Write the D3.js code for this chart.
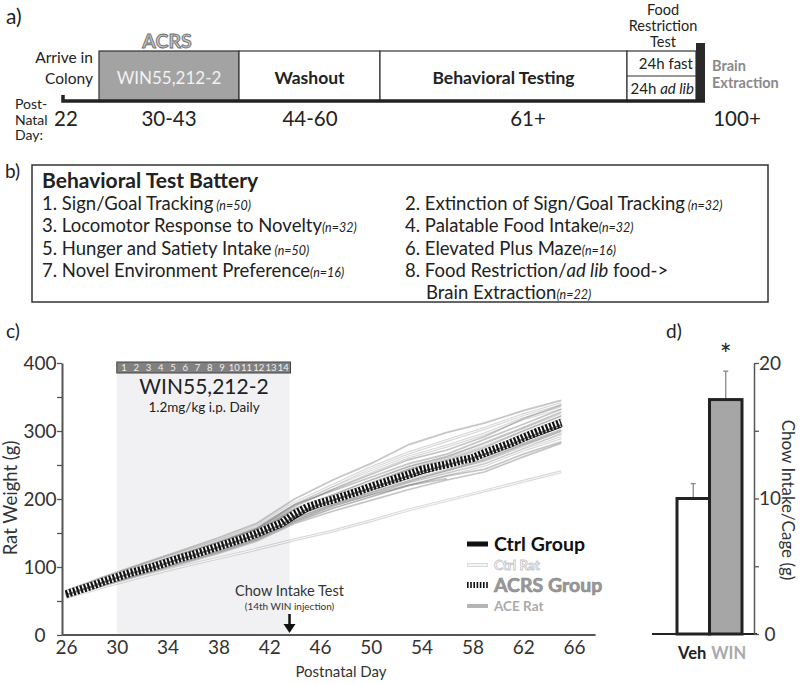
<!DOCTYPE html>
<html><head><meta charset="utf-8">
<script src="https://cdn.jsdelivr.net/npm/d3@7"></script>
<style>body{margin:0;background:#fff}svg{display:block}text{font-family:Lato,'Open Sans',sans-serif}</style>
</head><body><svg id="c" width="800" height="684"></svg>
<script>
// ---------------- DATA ----------------
const timelinePhases = ["WIN55,212-2", "Washout", "Behavioral Testing"];
const timelineDays = ["22", "30-43", "44-60", "61+", "100+"];
const foodTests = ["24h fast", "24h ad lib"];

const batteryTitle = "Behavioral Test Battery";
const batteryLeft = [["1. Sign/Goal Tracking", " (n=50)"], ["3. Locomotor Response to Novelty", "(n=32)"], ["5. Hunger and Satiety Intake", " (n=50)"], ["7. Novel Environment Preference", "(n=16)"]];
const batteryRight = [["2. Extinction of Sign/Goal Tracking", " (n=32)"], ["4. Palatable Food Intake", "(n=32)"], ["6. Elevated Plus Maze", "(n=16)"]];

// Panel c: body weights
const groupDays = d3.range(26, 66);
const acrsGroupMean = [60,66,72,79,85,91,96,101,107,113,118,124,130,136,142,149,157,165,178,188,194,199,205,211,218,224,230,236,243,247,251,256,260,268,275,282,290,298,305,312];
const ctrlGroupMean = [59,65,71,78,84,90,95,100,106,112,117,123,129,135,141,147,155,162,174,185,192,198,204,210,216,222,228,234,240,245,250,255,260,266,273,280,288,295,302,309];
const ratDays = [26,29,32,35,38,41,44,47,50,53,56,59,62,65];
const aceRats = [
  [65,86,105,124,143,164,200,228,252,280,298,312,330,345],
  [63,83,101,119,137,157,190,214,236,258,272,292,318,338],
  [61,81,99,117,135,155,186,206,228,248,262,283,305,328],
  [62,81,98,115,132,152,182,204,222,244,258,276,300,322],
  [59,78,95,112,129,147,176,196,214,232,248,264,286,306],
  [58,76,93,110,127,145,171,192,209,226,242,258,280,300],
  [57,74,90,106,122,140,166,186,203,220,234,244,266,284],
  [56,73,89,104,120,138,164,182,198,214,228,240,262,282],
  [58,75,92,108,124,142,168,190,206,220,230],
  [60,79,97,115,133,152,184,203,222,242,254,270,296,318],
  [62,82,100,118,136,156,192,212,232,252,266,288,310,332],
  [59,77,94,111,128,146,174,198,216,236,250,262,282,302]
];
const ctrlRats = [
  [64,84,103,121,139,160,194,220,246,268,286,304,324,340],
  [60,80,97,114,131,150,180,201,220,239,254,272,294,316],
  [62,82,100,117,134,153,183,205,226,246,262,280,302,324],
  [58,77,94,111,127,145,172,192,210,228,242,258,278,296],
  [57,75,91,107,123,141,168,188,205,222,236,250,272,290],
  [55,71,86,100,113,126,140,153,168,184,198,212,226,240],
  [61,79,96,113,130,150,178,196,216,234,250,266,290,310],
  [63,83,102,120,138,158,190,216,240,262,278,296,318,334],
  [58,76,93,109,125,143,170,190,208,226,240,254,276,298],
  [61,80,98,116,133,152,181,200,218,238,252,266,292,314]
];
const injectionDays = d3.range(1, 15);
const xTicks = [26,30,34,38,42,46,50,54,58,62,66];
const yTicks = [0,50,100,150,200,250,300,350,400];
const legendLabels = ["Ctrl Group", "Ctrl Rat", "ACRS Group", "ACE Rat"];

// Panel d: chow intake
const barCats = ["Veh", "WIN"];
const barVals = [10, 17.3];
const barErr = [1.1, 2.1];
const barTicks = [0,5,10,15,20];

// ---------------- DRAW ----------------
const FONT = "Lato, 'Open Sans', sans-serif";
const svg = d3.select("#c");
const txt = (g, x, y, s, size, opts = {}) => {
  const t = g.append("text").attr("x", x).attr("y", y).attr("font-size", size).text(s);
  for (const k in opts) t.attr(k, opts[k]);
  return t;
};

// ===== Panel a =====
const gA = svg.append("g");
txt(gA, 6, 24, "a)", 21, {fill:"#222"});
const phaseX = d3.scaleOrdinal().domain(timelinePhases).range([[99,239],[239,380],[380,627]]);
timelinePhases.forEach((p, i) => {
  const [x0, x1] = phaseX(p);
  gA.append("rect").attr("x", x0).attr("y", 51).attr("width", x1 - x0).attr("height", 50)
    .attr("fill", i === 0 ? "#a3a3a3" : "#fff").attr("stroke", "#333").attr("stroke-width", 1.2);
  txt(gA, (x0 + x1) / 2, 84, p, i === 0 ? 17 : 17.5, {"text-anchor":"middle", "font-weight": i === 0 ? "normal" : "bold", fill: i === 0 ? "#f2f2f2" : "#222"});
});
gA.append("rect").attr("x", 627).attr("y", 51).attr("width", 69).attr("height", 50).attr("fill", "#fff").attr("stroke", "#333").attr("stroke-width", 1.2);
gA.append("line").attr("x1", 627).attr("x2", 696).attr("y1", 76).attr("y2", 76).attr("stroke", "#333").attr("stroke-width", 1.2);
txt(gA, 693, 69, foodTests[0], 15, {"text-anchor":"end", fill:"#222"});
const ft = gA.append("text").attr("x", 694).attr("y", 94).attr("font-size", 15).attr("text-anchor", "end").attr("fill", "#222");
ft.append("tspan").text("24h ");
ft.append("tspan").attr("font-style", "italic").text("ad lib");
gA.append("rect").attr("x", 696).attr("y", 43).attr("width", 9).attr("height", 58).attr("fill", "#2a2a2a");
gA.append("path").attr("d", "M63,95 L63,101 L705,101").attr("fill", "none").attr("stroke", "#222").attr("stroke-width", 3.5);
txt(gA, 167, 48, "ACRS", 19.5, {"text-anchor":"middle", "font-weight":"bold", fill:"#c4c4c4", stroke:"#707070", "stroke-width":0.9});
txt(gA, 93, 63, "Arrive in", 15.5, {"text-anchor":"end", fill:"#222"});
txt(gA, 93, 84, "Colony", 15.5, {"text-anchor":"end", fill:"#222"});
txt(gA, 15, 109, "Post-", 14, {fill:"#222"});
txt(gA, 15, 124.5, "Natal", 14, {fill:"#222"});
txt(gA, 15, 140, "Day:", 14, {fill:"#222"});
const dayX = d3.scaleOrdinal().domain(timelineDays).range([54, 169, 310, 528, 737]);
timelineDays.forEach((d, i) => txt(gA, dayX(d), 126, d, 20.5, {"text-anchor": i === 0 ? "start" : "middle", fill:"#222"}));
txt(gA, 663, 15, "Food", 14.5, {"text-anchor":"middle", fill:"#222"});
txt(gA, 663, 31, "Restriction", 14.5, {"text-anchor":"middle", fill:"#222"});
txt(gA, 663, 46.5, "Test", 14.5, {"text-anchor":"middle", fill:"#222"});
txt(gA, 712, 71, "Brain", 14.5, {"font-weight":"bold", fill:"#8a8a8a"});
txt(gA, 712, 88, "Extraction", 14.5, {"font-weight":"bold", fill:"#8a8a8a"});

// ===== Panel b =====
const gB = svg.append("g");
txt(gB, 5, 178, "b)", 19, {fill:"#222"});
gB.append("rect").attr("x", 32).attr("y", 165).attr("width", 736).attr("height", 137).attr("fill", "none").attr("stroke", "#333").attr("stroke-width", 1.5);
txt(gB, 42, 188, batteryTitle, 21, {"font-weight":"bold", fill:"#222"});
const rowY = d3.scaleLinear().domain([0, 1]).range([209.5, 232]);
const item = (x, y, main, n) => {
  const t = gB.append("text").attr("x", x).attr("y", y).attr("font-size", 18.5).attr("fill", "#222");
  t.append("tspan").text(main);
  t.append("tspan").attr("font-size", 12.5).attr("font-style", "italic").text(n);
  return t;
};
batteryLeft.forEach((d, i) => item(42, rowY(i), d[0], d[1]));
batteryRight.forEach((d, i) => item(405, rowY(i), d[0], d[1]));
const t8 = gB.append("text").attr("x", 405).attr("y", rowY(3)).attr("font-size", 18.5).attr("fill", "#222");
t8.append("tspan").text("8. Food Restriction/");
t8.append("tspan").attr("font-style", "italic").text("ad lib");
t8.append("tspan").text(" food->");
item(426, rowY(4) - 1, "Brain Extraction", "(n=22)");

// ===== Panel c =====
const gC = svg.append("g");
txt(gC, 6, 338, "c)", 19, {fill:"#222"});
const x = d3.scaleLinear().domain([26, 66]).range([66, 574]);
const y = d3.scaleLinear().domain([0, 400]).range([635, 363]);
gC.append("rect").attr("x", x(30)).attr("y", 373).attr("width", x(43.6) - x(30)).attr("height", y(0) - 373).attr("fill", "#f1f1f3");
gC.append("rect").attr("x", x(30)).attr("y", 362).attr("width", x(43.6) - x(30) + 1).attr("height", 11).attr("fill", "#808080").attr("stroke", "#444").attr("stroke-width", 1);
const injX = d3.scaleBand().domain(injectionDays).range([x(30) + 1, x(43.6)]);
injectionDays.forEach(d => txt(gC, injX(d) + injX.bandwidth() / 2, 371, d, 9.5, {"text-anchor":"middle", fill:"#eee"}));
txt(gC, 204, 394, "WIN55,212-2", 21, {"text-anchor":"middle", fill:"#222"});
txt(gC, 204, 412, "1.2mg/kg i.p. Daily", 13.5, {"text-anchor":"middle", fill:"#222"});

const line = d3.line().x(d => x(d[0])).y(d => y(d[1]));
const ser = vals => vals.map((v, i) => [ratDays[i], v]);
ctrlRats.forEach(r => {
  gC.append("path").attr("d", line(ser(r))).attr("fill", "none").attr("stroke", "#8a8a8a").attr("stroke-opacity", 0.35).attr("stroke-width", 3);
  gC.append("path").attr("d", line(ser(r))).attr("fill", "none").attr("stroke", "#fff").attr("stroke-opacity", 0.8).attr("stroke-width", 1.1);
});
aceRats.forEach(r => {
  gC.append("path").attr("d", line(ser(r))).attr("fill", "none").attr("stroke", "#777").attr("stroke-opacity", 0.42).attr("stroke-width", 1.7);
});
const grp = vals => vals.map((v, i) => [groupDays[i], v]);
gC.append("path").attr("d", line(grp(ctrlGroupMean))).attr("fill", "none").attr("stroke", "#111").attr("stroke-width", 5);
gC.append("path").attr("d", line(grp(acrsGroupMean))).attr("fill", "none").attr("stroke", "#fff").attr("stroke-width", 7);
gC.append("path").attr("d", line(grp(acrsGroupMean))).attr("fill", "none").attr("stroke", "#111").attr("stroke-width", 8).attr("stroke-dasharray", "2.2,1.6");
gC.append("path").attr("d", line(grp(ctrlGroupMean))).attr("fill", "none").attr("stroke", "#222").attr("stroke-width", 2).attr("stroke-opacity", 0.6);

const gy = gC.append("g").attr("transform", "translate(62,0)")
  .call(d3.axisLeft(y).tickValues(yTicks).tickSize(5).tickSizeOuter(0).tickFormat(d => d % 100 === 0 ? d : ""));
gy.select(".domain").attr("stroke", "#555").attr("stroke-width", 2);
gy.selectAll(".tick line").attr("stroke", "#555").attr("stroke-width", 1.3);
gy.selectAll(".tick text").attr("x", -22).attr("text-anchor", "middle").attr("font-size", 19).attr("fill", "#333").attr("font-family", FONT);
const gx = gC.append("g").attr("transform", "translate(0,635)")
  .call(d3.axisBottom(x).tickValues(xTicks).tickSize(0).tickPadding(6));
gx.select(".domain").remove();
gx.selectAll(".tick text").attr("font-size", 19).attr("fill", "#333").attr("font-family", FONT);
gC.append("line").attr("x1", x(25.7)).attr("x2", x(67.7)).attr("y1", 635).attr("y2", 635).attr("stroke", "#555").attr("stroke-width", 2);
txt(gC, 0, 0, "Rat Weight (g)", 18.5, {"text-anchor":"middle", fill:"#333", transform:"translate(17,498) rotate(-90)"});
txt(gC, 341, 677, "Postnatal Day", 15, {"text-anchor":"middle", fill:"#333"});

txt(gC, x(43.6), 596, "Chow Intake Test", 14.5, {"text-anchor":"middle", fill:"#333"});
txt(gC, x(43.6), 610, "(14th WIN injection)", 10, {"text-anchor":"middle", fill:"#333"});
gC.append("line").attr("x1", x(43.6)).attr("x2", x(43.6)).attr("y1", 614).attr("y2", 626).attr("stroke", "#111").attr("stroke-width", 2.5);
gC.append("path").attr("d", `M${x(43.6) - 6},${624} L${x(43.6) + 6},${624} L${x(43.6)},${633} Z`).attr("fill", "#111");

const lg = gC.append("g");
const legY = d3.scaleOrdinal().domain(legendLabels).range([544, 565, 585, 606]);
lg.append("line").attr("x1", 467).attr("x2", 488).attr("y1", legY("Ctrl Group")).attr("y2", legY("Ctrl Group")).attr("stroke", "#111").attr("stroke-width", 5);
lg.append("line").attr("x1", 467).attr("x2", 488).attr("y1", legY("Ctrl Rat")).attr("y2", legY("Ctrl Rat")).attr("stroke", "#ccc").attr("stroke-width", 3.5);
lg.append("line").attr("x1", 467.5).attr("x2", 487.5).attr("y1", legY("Ctrl Rat")).attr("y2", legY("Ctrl Rat")).attr("stroke", "#fff").attr("stroke-width", 1.6);
lg.append("line").attr("x1", 467).attr("x2", 488).attr("y1", legY("ACRS Group")).attr("y2", legY("ACRS Group")).attr("stroke", "#111").attr("stroke-width", 6).attr("stroke-dasharray", "1.6,1.6");
lg.append("line").attr("x1", 467).attr("x2", 488).attr("y1", legY("ACE Rat")).attr("y2", legY("ACE Rat")).attr("stroke", "#b5b5b5").attr("stroke-width", 4);
txt(lg, 494, legY("Ctrl Group") + 7, "Ctrl Group", 19.5, {"font-weight":"bold", fill:"#111"});
txt(lg, 494, legY("Ctrl Rat") + 5, "Ctrl Rat", 13.5, {"font-weight":"bold", fill:"#fff", stroke:"#c4c4c4", "stroke-width":0.8});
txt(lg, 494, legY("ACRS Group") + 7, "ACRS Group", 19.5, {"font-weight":"bold", fill:"#999", stroke:"#888", "stroke-width":0.6});
txt(lg, 494, legY("ACE Rat") + 5, "ACE Rat", 13.5, {"font-weight":"bold", fill:"#aaa"});

// ===== Panel d =====
const gD = svg.append("g");
txt(gD, 666, 338, "d)", 19, {fill:"#222"});
const xb = d3.scaleBand().domain(barCats).range([677, 742]);
const yb = d3.scaleLinear().domain([0, 20]).range([634, 363]);
barCats.forEach((c, i) => {
  const cx = xb(c) + xb.bandwidth() / 2;
  gD.append("line").attr("x1", cx).attr("x2", cx).attr("y1", yb(barVals[i])).attr("y2", yb(barVals[i] + barErr[i])).attr("stroke", "#888").attr("stroke-width", 1.3);
  gD.append("line").attr("x1", cx - 2.5).attr("x2", cx + 2.5).attr("y1", yb(barVals[i] + barErr[i])).attr("y2", yb(barVals[i] + barErr[i])).attr("stroke", "#888").attr("stroke-width", 1.3);
  gD.append("rect").attr("x", xb(c)).attr("y", yb(barVals[i])).attr("width", xb.bandwidth()).attr("height", yb(0) - yb(barVals[i]))
    .attr("fill", i === 0 ? "#fff" : "#a6a6a6").attr("stroke", "#222").attr("stroke-width", 3);
  txt(gD, cx + (i === 0 ? -1 : 3), 659, c, 16.5, {"text-anchor":"middle", "font-weight":"bold", fill: i === 0 ? "#222" : "#aaa"});
});
gD.append("line").attr("x1", 652).attr("x2", 757).attr("y1", yb(0)).attr("y2", yb(0)).attr("stroke", "#222").attr("stroke-width", 2);
const gyb = gD.append("g").attr("transform", "translate(754,0)")
  .call(d3.axisRight(yb).tickValues(barTicks).tickSize(5).tickSizeOuter(0).tickFormat(d => d % 10 === 0 ? d : ""));
gyb.select(".domain").attr("stroke", "#555").attr("stroke-width", 1.5);
gyb.selectAll(".tick line").attr("stroke", "#555").attr("stroke-width", 1.3);
gyb.selectAll(".tick text").attr("x", 16).attr("text-anchor", "middle").attr("font-size", 19).attr("fill", "#333").attr("font-family", FONT);
txt(gD, 0, 0, "Chow Intake/Cage (g)", 17, {"text-anchor":"middle", fill:"#333", transform:"translate(782,500) rotate(90)"});
txt(gD, xb("WIN") + xb.bandwidth() / 2, 365, "*", 28, {"text-anchor":"middle", fill:"#222"});
</script></body></html>
